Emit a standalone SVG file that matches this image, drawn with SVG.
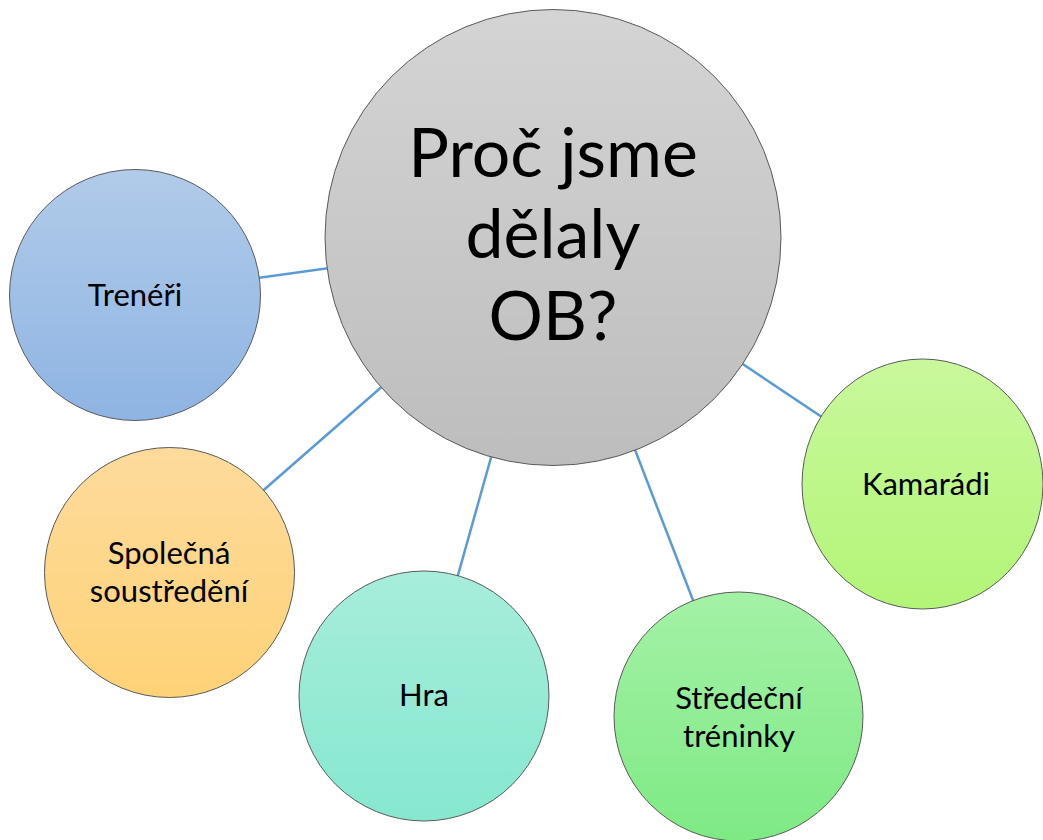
<svg xmlns="http://www.w3.org/2000/svg" width="1043" height="840" viewBox="0 0 1043 840">
<defs>
<linearGradient id="gCenter" x1="0" y1="0" x2="0" y2="1"><stop offset="0" stop-color="#d4d4d4"/><stop offset="1" stop-color="#bdbdbd"/></linearGradient>
<linearGradient id="gBlue" x1="0" y1="0" x2="0" y2="1"><stop offset="0" stop-color="#b1cbe9"/><stop offset="1" stop-color="#8eb4e3"/></linearGradient>
<linearGradient id="gOrange" x1="0" y1="0" x2="0" y2="1"><stop offset="0" stop-color="#fddb9c"/><stop offset="1" stop-color="#fed277"/></linearGradient>
<linearGradient id="gTeal" x1="0" y1="0" x2="0" y2="1"><stop offset="0" stop-color="#a7eddb"/><stop offset="1" stop-color="#86e8cf"/></linearGradient>
<linearGradient id="gGreen" x1="0" y1="0" x2="0" y2="1"><stop offset="0" stop-color="#a4f1a6"/><stop offset="1" stop-color="#7eea84"/></linearGradient>
<linearGradient id="gLime" x1="0" y1="0" x2="0" y2="1"><stop offset="0" stop-color="#c9f89c"/><stop offset="1" stop-color="#b2f577"/></linearGradient>
</defs>
<style>
.node{stroke:#5a5a5a;stroke-width:1}
.lbl{font-family:Lato,"Open Sans","Liberation Sans",sans-serif;font-size:31px;fill:#000;text-anchor:middle}
.big{font-family:Lato,"Open Sans","Liberation Sans",sans-serif;font-size:68px;fill:#000;text-anchor:middle}
.conn{stroke:#5b9bd5;stroke-width:2.5;fill:none}
</style>
<rect width="1043" height="840" fill="#ffffff"/>
<g id="connectors">
<line class="conn" x1="553" y1="237" x2="135" y2="295"/>
<line class="conn" x1="553" y1="237" x2="170" y2="572"/>
<line class="conn" x1="553" y1="237" x2="424" y2="696"/>
<line class="conn" x1="553" y1="237" x2="738" y2="717"/>
<line class="conn" x1="553" y1="237" x2="922" y2="484"/>
</g>
<g id="center">
<circle class="node" cx="553" cy="237.5" r="228" fill="url(#gCenter)"/>
<text class="big" x="553" y="177">Proč jsme</text>
<text class="big" x="553" y="258">dělaly</text>
<text class="big" x="553" y="340">OB?</text>
</g>
<g id="treneri">
<circle class="node" cx="135" cy="295" r="125.5" fill="url(#gBlue)"/>
<text class="lbl" x="135" y="306">Trenéři</text>
</g>
<g id="spolecna">
<circle class="node" cx="169.5" cy="572.5" r="125" fill="url(#gOrange)"/>
<text class="lbl" x="169" y="564">Společná</text>
<text class="lbl" x="169" y="602">soustředění</text>
</g>
<g id="hra">
<circle class="node" cx="424" cy="696" r="125" fill="url(#gTeal)"/>
<text class="lbl" x="424" y="706">Hra</text>
</g>
<g id="stredecni">
<circle class="node" cx="738.5" cy="716.5" r="124.5" fill="url(#gGreen)"/>
<text class="lbl" x="739" y="709">Středeční</text>
<text class="lbl" x="739" y="747">tréninky</text>
</g>
<g id="kamaradi">
<ellipse class="node" cx="922.5" cy="484" rx="120.5" ry="125" fill="url(#gLime)"/>
<text class="lbl" x="926" y="495">Kamarádi</text>
</g>
</svg>
